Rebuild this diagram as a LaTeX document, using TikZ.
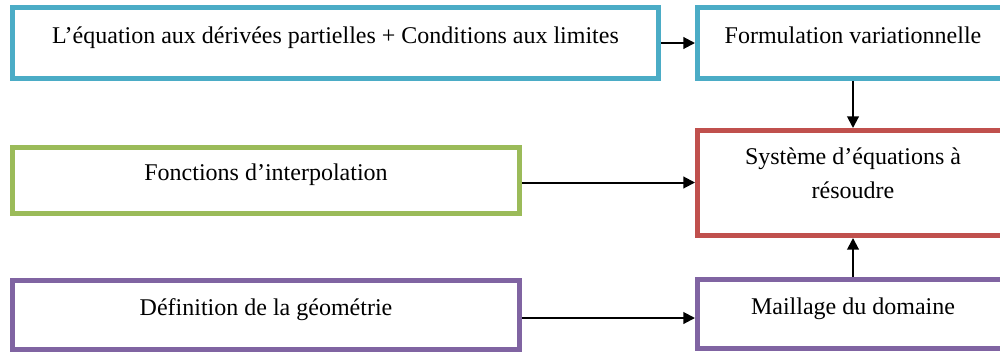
\documentclass[tikz,border=0pt]{standalone}
\usepackage{fontspec}
\setmainfont{Liberation Serif}
\usetikzlibrary{arrows.meta}
\definecolor{aqua}{HTML}{4BACC6}
\definecolor{olive}{HTML}{9BBB59}
\definecolor{brick}{HTML}{C0504D}
\definecolor{lilac}{HTML}{8064A2}
\begin{document}
\begin{tikzpicture}[x=0.6pt, y=-0.6pt, font=\fontsize{14.4}{20.4}\selectfont,
    etape/.style={draw=#1, line width=3pt, fill=white, inner sep=0pt,
      text height=1ex, text depth=1ex, align=center},
    fleche/.style={-{Triangle[length=7pt,width=7pt]}, line width=1.2pt}]
  \useasboundingbox (0,0) rectangle (1000,354);
  \clip (0,0) rectangle (1000,354);
  % boites
  \node[etape=aqua, minimum width=646*0.6pt, minimum height=71*0.6pt] (edp) at (335.5,43)
    {L’équation aux dérivées partielles + Conditions aux limites};
  \node[etape=aqua, minimum width=311*0.6pt, minimum height=71*0.6pt] (form) at (853,43)
    {Formulation variationnelle};
  \node[etape=brick, minimum width=311*0.6pt, minimum height=105*0.6pt,
        text height=0pt, text depth=22.8pt] (sys) at (853,183)
    {\begin{tabular}[t]{@{}c@{}}Système d’équations à\\résoudre\end{tabular}};
  \node[etape=olive, minimum width=507*0.6pt, minimum height=66*0.6pt] (interp) at (266,180.5)
    {Fonctions d’interpolation};
  \node[etape=lilac, minimum width=507*0.6pt, minimum height=69*0.6pt] (geom) at (266,315)
    {Définition de la géométrie};
  \node[etape=lilac, minimum width=311*0.6pt, minimum height=69*0.6pt] (mail) at (853,314)
    {Maillage du domaine};
  % fleches
  \draw[fleche] (edp.east) -- (edp.east -| form.west);
  \draw[fleche] (form) -- (sys);
  \draw[fleche] ([yshift=-2*0.6pt]interp.east) -- ([yshift=-2*0.6pt]interp.east -| sys.west);
  \draw[fleche] ([yshift=-3*0.6pt]geom.east) -- ([yshift=-3*0.6pt]geom.east -| mail.west);
  \draw[fleche] (mail) -- (sys);
\end{tikzpicture}
\end{document}
